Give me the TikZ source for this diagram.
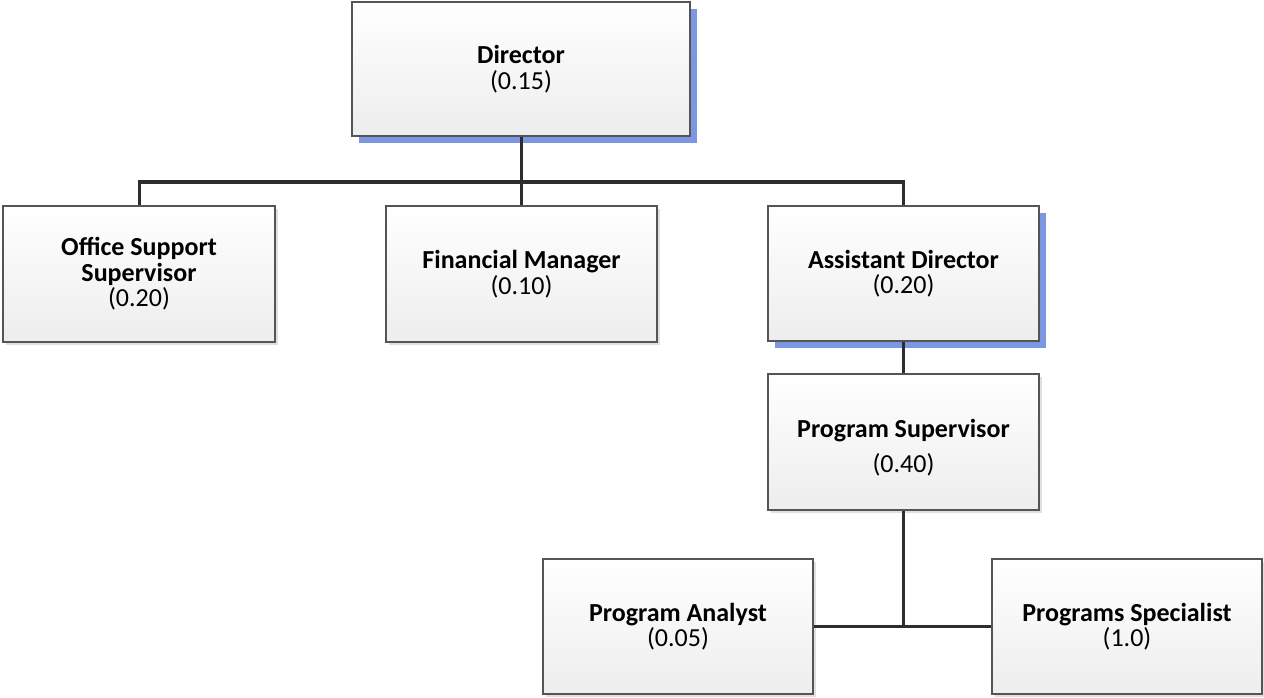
\documentclass[tikz,border=0pt]{standalone}
\usepackage{fontspec}
\setmainfont{Carlito}
\usetikzlibrary{shadows}
\definecolor{shblue}{RGB}{125,150,225}
\definecolor{boxline}{RGB}{85,85,85}
\definecolor{wire}{RGB}{45,45,45}
\tikzset{
  orgbox/.style={draw=boxline, line width=1.3pt, top color=white, bottom color=black!7,
    minimum width=272pt, minimum height=136pt, align=center, inner sep=0pt,
    font=\fontsize{26}{25.5}\selectfont},
  blueshadow/.style={drop shadow={shadow xshift=7pt, shadow yshift=-7pt, fill=shblue, opacity=1}},
  grayshadow/.style={drop shadow={shadow xshift=3pt, shadow yshift=-3pt, fill=black!12, opacity=1}},
  wireline/.style={draw=wire, line width=3pt}
}
\begin{document}
\begin{tikzpicture}[x=1pt,y=-1pt]
\useasboundingbox (0,0) rectangle (1264,698);
\node[orgbox, blueshadow, minimum width=338pt, minimum height=134pt] (dir) at (521,69) {\textbf{Director}\\(0.15)};
\node[orgbox, grayshadow] (oss) at (139,274) {\textbf{Office Support}\\\textbf{Supervisor}\\(0.20)};
\node[orgbox, grayshadow, minimum width=271pt] (fm) at (521.5,274) {\textbf{Financial Manager}\\(0.10)};
\node[orgbox, blueshadow, minimum width=271pt, minimum height=135pt] (ad) at (903.5,273.5) {\textbf{Assistant Director}\\(0.20)};
\node[orgbox, grayshadow, minimum width=271pt] (ps) at (903.5,442) {\rule{0pt}{30pt}\textbf{Program Supervisor}\\[9pt](0.40)};
\node[orgbox, grayshadow, minimum width=270pt, minimum height=135pt] (pa) at (678,626.5) {\textbf{Program Analyst}\\(0.05)};
\node[orgbox, grayshadow, minimum width=270pt, minimum height=135pt] (spec) at (1127,626.5) {\textbf{Programs Specialist}\\(1.0)};
\coordinate (bus) at (521,182);
\draw[wireline] (dir.south) -- (dir.south |- bus);
\draw[wireline] (oss.north) |- (bus) -| (ad.north);
\draw[wireline] (fm.north) -- (fm.north |- bus);
\draw[wireline] (ad.south) -- (ps.north);
\draw[wireline] (ps.south) -- (ps.south |- pa.east);
\draw[wireline] (pa.east) -- (spec.west);
\end{tikzpicture}
\end{document}
